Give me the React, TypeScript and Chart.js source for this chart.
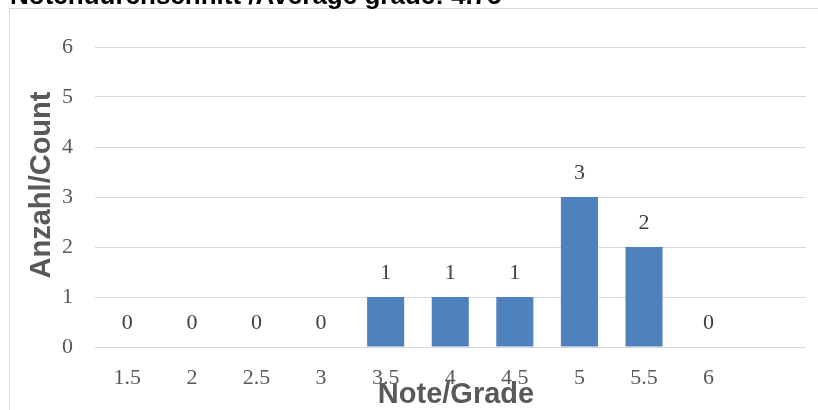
import React, { useEffect, useRef } from "react";
import { Chart, registerables } from "chart.js";

Chart.register(...registerables);

const categories = ["1.5", "2", "2.5", "3", "3.5", "4", "4.5", "5", "5.5", "6", ""];
const counts = [0, 0, 0, 0, 1, 1, 1, 3, 2, 0, null];
const yTicks = [0, 1, 2, 3, 4, 5, 6];
const chartTitle = "Notendurchschnitt /Average grade: 4.75";
const xTitle = "Note/Grade";
const yTitle = "Anzahl/Count";

const W = 818;
const H = 410;

const decorPlugin = {
  id: "decor",
  beforeDraw(chart: any) {
    const ctx = chart.ctx;
    ctx.save();
    ctx.strokeStyle = "#D9D9D9";
    ctx.lineWidth = 1;
    ctx.strokeRect(9.5, 8.5, 1000, 1000);
    ctx.restore();
  },
  afterDraw(chart: any) {
    const ctx = chart.ctx;
    ctx.save();
    // title (clipped at top)
    ctx.fillStyle = "#000000";
    ctx.font = "bold 26px 'Liberation Sans', Arial, sans-serif";
    ctx.textAlign = "left";
    ctx.textBaseline = "alphabetic";
    ctx.fillText(chartTitle, 10, 4);
    // axis titles
    ctx.fillStyle = "#595959";
    ctx.font = "bold 29px 'Liberation Sans', Arial, sans-serif";
    ctx.textAlign = "center";
    ctx.fillText(xTitle, 456, 403);
    ctx.translate(50, 185);
    ctx.rotate(-Math.PI / 2);
    ctx.fillText(yTitle, 0, 0);
    ctx.restore();
  },
  afterDatasetsDraw(chart: any) {
    const ctx = chart.ctx;
    const meta = chart.getDatasetMeta(0);
    const data = chart.data.datasets[0].data;
    ctx.save();
    ctx.fillStyle = "#404040";
    ctx.font = "22px 'Liberation Serif', 'Times New Roman', serif";
    ctx.textAlign = "center";
    ctx.textBaseline = "middle";
    meta.data.forEach((bar: any, i: number) => {
      const v = data[i];
      if (v === null || v === undefined) return;
      ctx.fillText(String(v), bar.x, bar.y - 24);
    });
    ctx.restore();
  },
};

export default function App() {
  const ref = useRef<HTMLCanvasElement>(null);
  useEffect(() => {
    if (!ref.current) return;
    const chart = new Chart(ref.current, {
      type: "bar",
      data: {
        labels: categories,
        datasets: [
          {
            data: counts as any,
            backgroundColor: "#4F81BD",
            barPercentage: 0.574,
            categoryPercentage: 1,
          },
        ],
      },
      options: {
        responsive: false,
        animation: false,
        layout: { padding: { top: 47, right: 12.5, left: 0, bottom: 0 } },
        plugins: {
          legend: { display: false },
          tooltip: { enabled: false },
          title: { display: false },
        },
        scales: {
          x: {
            grid: { display: false, drawTicks: false },
            border: { display: false },
            ticks: {
              padding: 18,
              color: "#595959",
              font: { family: "'Liberation Serif', 'Times New Roman', serif", size: 22 },
              maxRotation: 0,
              autoSkip: false,
            },
            afterFit(scale: any) {
              scale.height = 63;
            },
          },
          y: {
            min: 0,
            max: 6,
            afterBuildTicks(scale: any) {
              scale.ticks = yTicks.map((v) => ({ value: v }));
            },
            grid: { color: "#D9D9D9", lineWidth: 1, drawTicks: false },
            border: { display: false },
            ticks: {
              padding: 22,
              color: "#595959",
              font: { family: "'Liberation Serif', 'Times New Roman', serif", size: 22 },
            },
            afterFit(scale: any) {
              scale.width = 95;
            },
          },
        },
      },
      plugins: [decorPlugin],
    });
    return () => chart.destroy();
  }, []);
  return (
    <div style={{ position: "fixed", left: 0, top: 0, width: W, height: H, background: "#fff" }}>
      <canvas ref={ref} width={W} height={H} style={{ width: W, height: H, display: "block" }} />
    </div>
  );
}
